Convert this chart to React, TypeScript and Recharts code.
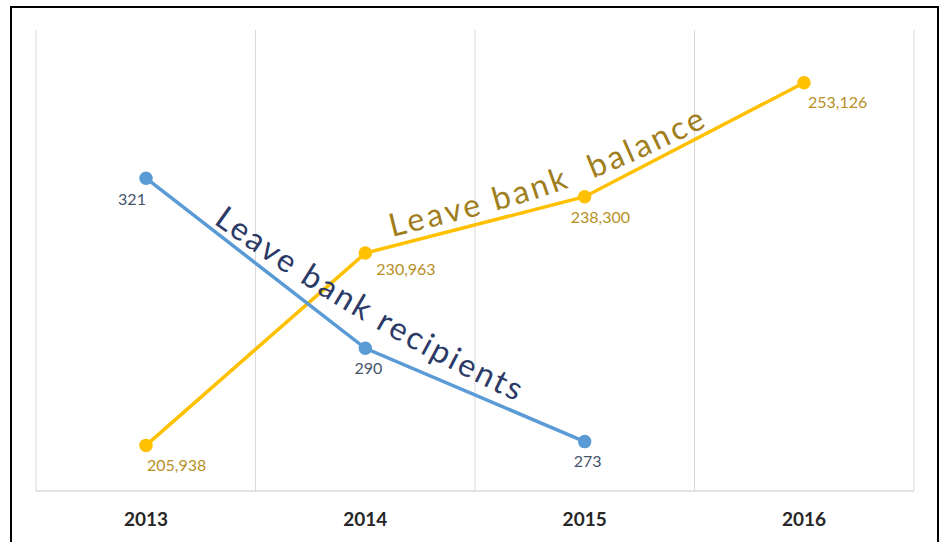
import { LineChart, Line, XAxis, YAxis, CartesianGrid, LabelList } from "recharts";

// values
const years = ["2013", "2014", "2015", "2016"];
const recipients = [321, 290, 273, null];
const balance = [205938, 230963, 238300, 253126];

const data = years.map((year, i) => ({
  year,
  recipients: recipients[i],
  balance: balance[i],
}));

const FONT = "Lato, 'Open Sans', sans-serif";
const BLUE = "#5B9BD5";
const GOLD = "#FFC000";
const BLUE_TEXT = "#44546A";
const GOLD_TEXT = "#B8901F";

// label nudges (style only)
const recOffsets = [[-14, 20], [3, 19], [3, 19]];
const balOffsets = [[1, 19], [11, 15], [-14, 20], [4, 19]];

const fmt = (v: number) => v.toLocaleString("en-US");

function recLabel(props: any) {
  const { x, y, value, index } = props;
  if (value == null) return null;
  const [dx, dy] = recOffsets[index] ?? [0, 20];
  return (
    <text x={x + dx} y={y + dy} textAnchor="middle" dominantBaseline="central"
      fill={BLUE_TEXT} fontSize={16} fontFamily={FONT}>
      {fmt(value)}
    </text>
  );
}

function balLabel(props: any) {
  const { x, y, value, index } = props;
  if (value == null) return null;
  const [dx, dy] = balOffsets[index] ?? [0, 20];
  return (
    <text x={x + dx} y={y + dy} textAnchor="start" dominantBaseline="central"
      fill={GOLD_TEXT} fontSize={16} fontFamily={FONT}>
      {fmt(value)}
    </text>
  );
}

// vertical grid lines sit on the category boundaries, not the centres
function bandEdges({ offset }: any) {
  return Array.from({ length: years.length + 1 }, (_, i) => offset.left + (i * offset.width) / years.length);
}

export default function App() {
  return (
    <div style={{ position: "fixed", left: 0, top: 0, width: 940, height: 542, overflow: "hidden", background: "#fff" }}>
      <LineChart width={940} height={542} data={data}
        margin={{ top: 30, right: 26, left: 36, bottom: 0 }}>
        <XAxis dataKey="year" padding={{ left: 110, right: 110 }} height={51}
          axisLine={{ stroke: "#d9d9d9", strokeWidth: 1.5 }} tickLine={false} tickMargin={16}
          tick={{ fill: "#262626", fontSize: 19, fontWeight: 700, fontFamily: FONT }} />
        <YAxis yAxisId="rec" domain={[264, 348]} hide />
        <YAxis yAxisId="bal" domain={[200000, 260000]} hide />
        <CartesianGrid yAxisId="bal" horizontal={false} stroke="#d9d9d9"
          verticalCoordinatesGenerator={bandEdges} />
        <Line yAxisId="bal" dataKey="balance" stroke={GOLD} strokeWidth={3.5}
          dot={{ r: 5, fill: GOLD, stroke: GOLD }} isAnimationActive={false}>
          <LabelList dataKey="balance" content={balLabel} />
        </Line>
        <Line yAxisId="rec" dataKey="recipients" stroke={BLUE} strokeWidth={3.5}
          dot={{ r: 5, fill: BLUE, stroke: BLUE }} isAnimationActive={false}>
          <LabelList dataKey="recipients" content={recLabel} />
        </Line>
      </LineChart>

      {/* curved series names */}
      <svg width={940} height={542} style={{ position: "absolute", left: 0, top: 0, pointerEvents: "none" }}>
        <defs>
          <path id="recPath" d="M 213 223 Q 358 328 524 405" />
          <path id="balPath" d="M 392 237 C 500 210 560 200 706 127" />
        </defs>
        <text fill="#2B3A66" fontSize={32} fontFamily={FONT}>
          <textPath href="#recPath" textLength={352} lengthAdjust="spacing">Leave bank recipients</textPath>
        </text>
        <text fill="#A07E1C" fontSize={32} fontFamily={FONT} style={{ whiteSpace: "pre" }}>
          <textPath href="#balPath" textLength={335} lengthAdjust="spacing">Leave bank  balance</textPath>
        </text>
      </svg>

      <div style={{ position: "absolute", left: 10, top: 6, width: 925, height: 600, border: "2px solid #000" }} />
    </div>
  );
}
